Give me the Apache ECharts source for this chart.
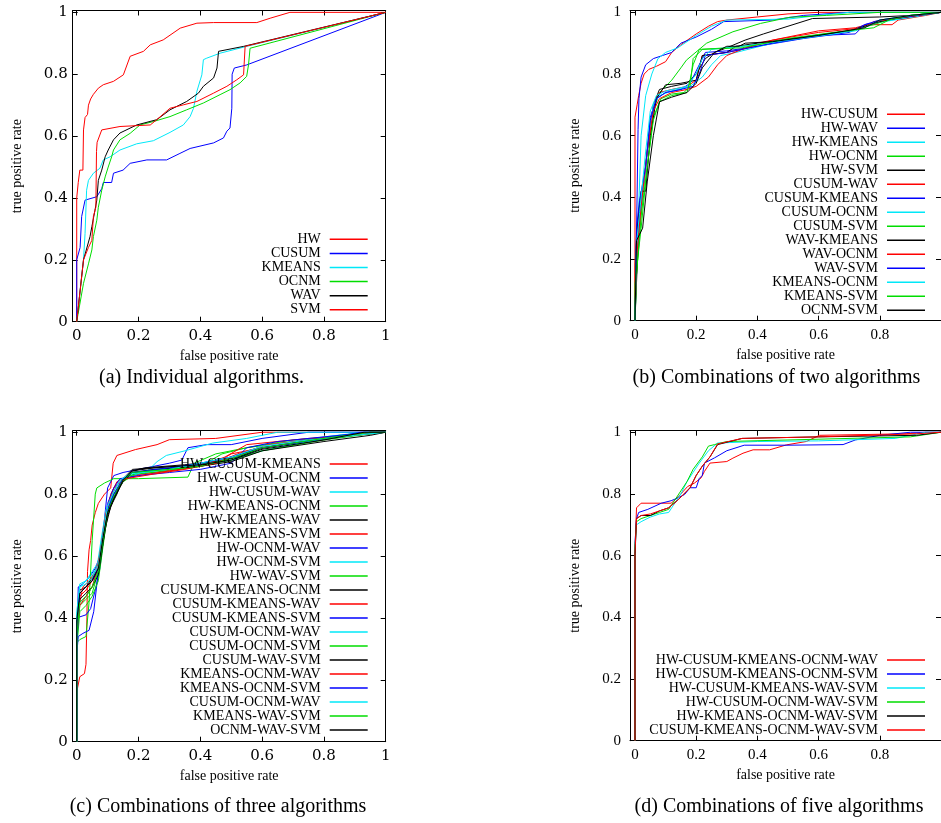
<!DOCTYPE html>
<html><head><meta charset="utf-8">
<script src="https://cdn.jsdelivr.net/npm/echarts@6/dist/echarts.min.js"></script>
<style>html,body{margin:0;padding:0;background:#fff}#c{width:941px;height:823px}</style>
</head><body><div id="c"></div>
<script>
// ---------- tick values ----------
const tickVals = [0, 0.2, 0.4, 0.6, 0.8, 1];
const tickValsCut = [0, 0.2, 0.4, 0.6, 0.8];

// ---------- panel (a): individual algorithms ----------
const namesA = ['HW', 'CUSUM', 'KMEANS', 'OCNM', 'WAV', 'SVM'];
const A_HW = [[0,0],[0,0.4],[0.005,0.45],[0.01,0.49],[0.02,0.49],[0.022,0.62],[0.027,0.66],[0.035,0.67],[0.038,0.70],[0.045,0.72],[0.054,0.735],[0.07,0.755],[0.086,0.766],[0.119,0.777],[0.151,0.798],[0.173,0.858],[0.216,0.874],[0.238,0.895],[0.28,0.911],[0.335,0.949],[0.389,0.965],[0.443,0.967],[0.583,0.967],[0.626,0.981],[0.69,1],[1,1]];
const A_CUSUM = [[0,0],[0,0.2],[0.011,0.24],[0.016,0.34],[0.027,0.393],[0.065,0.404],[0.081,0.43],[0.086,0.45],[0.113,0.45],[0.119,0.48],[0.15,0.49],[0.173,0.512],[0.227,0.523],[0.291,0.523],[0.334,0.544],[0.367,0.56],[0.443,0.578],[0.475,0.594],[0.486,0.616],[0.496,0.626],[0.502,0.69],[0.503,0.8],[0.51,0.82],[0.55,0.83],[1,1]];
const A_KMEANS = [[0,0],[0.011,0.1],[0.022,0.2],[0.027,0.285],[0.032,0.425],[0.038,0.457],[0.054,0.48],[0.075,0.496],[0.086,0.523],[0.108,0.533],[0.14,0.555],[0.194,0.575],[0.248,0.585],[0.302,0.612],[0.345,0.636],[0.367,0.663],[0.378,0.69],[0.389,0.745],[0.405,0.798],[0.41,0.847],[0.421,0.852],[0.464,0.868],[0.55,0.89],[1,1]];
const A_OCNM = [[0,0],[0.022,0.124],[0.038,0.187],[0.049,0.232],[0.054,0.275],[0.065,0.328],[0.07,0.37],[0.081,0.425],[0.092,0.468],[0.102,0.5],[0.113,0.533],[0.119,0.555],[0.14,0.588],[0.173,0.609],[0.205,0.636],[0.248,0.647],[0.302,0.663],[0.356,0.685],[0.41,0.707],[0.464,0.734],[0.496,0.75],[0.529,0.772],[0.55,0.793],[0.556,0.83],[0.561,0.884],[1,1]];
const A_WAV = [[0,0],[0.022,0.2],[0.043,0.275],[0.049,0.307],[0.059,0.36],[0.065,0.393],[0.07,0.457],[0.081,0.49],[0.092,0.533],[0.102,0.555],[0.119,0.588],[0.14,0.61],[0.194,0.636],[0.259,0.653],[0.302,0.685],[0.356,0.712],[0.394,0.739],[0.41,0.761],[0.443,0.788],[0.454,0.82],[0.459,0.874],[0.54,0.89],[1,1]];
const A_SVM = [[0,0],[0.022,0.2],[0.038,0.24],[0.049,0.263],[0.054,0.34],[0.062,0.37],[0.064,0.55],[0.066,0.58],[0.081,0.62],[0.14,0.631],[0.238,0.636],[0.259,0.653],[0.302,0.69],[0.345,0.701],[0.389,0.712],[0.443,0.739],[0.486,0.761],[0.518,0.782],[0.54,0.798],[0.545,0.89],[1,1]];
const curvesA = [A_HW, A_CUSUM, A_KMEANS, A_OCNM, A_WAV, A_SVM];

// ---------- panel (b): combinations of two ----------
const namesB = ['HW-CUSUM','HW-WAV','HW-KMEANS','HW-OCNM','HW-SVM','CUSUM-WAV','CUSUM-KMEANS','CUSUM-OCNM','CUSUM-SVM','WAV-KMEANS','WAV-OCNM','WAV-SVM','KMEANS-OCNM','KMEANS-SVM','OCNM-SVM'];
const B1 = [[0,0],[0,0.66],[0.007,0.7],[0.012,0.73],[0.02,0.77],[0.03,0.8],[0.045,0.815],[0.07,0.825],[0.1,0.84],[0.12,0.87],[0.15,0.895],[0.2,0.93],[0.24,0.955],[0.27,0.97],[0.3,0.975],[0.4,0.985],[0.5,0.995],[0.6,1],[1,1]];
const B2 = [[0,0],[0.005,0.28],[0.01,0.62],[0.013,0.72],[0.02,0.79],[0.035,0.83],[0.06,0.85],[0.09,0.86],[0.12,0.87],[0.15,0.9],[0.2,0.92],[0.25,0.945],[0.29,0.97],[0.45,0.975],[0.55,0.99],[0.7,1],[1,1]];
const B3 = [[0,0],[0.005,0.15],[0.01,0.3],[0.02,0.6],[0.035,0.73],[0.055,0.8],[0.075,0.85],[0.1,0.87],[0.14,0.885],[0.2,0.925],[0.25,0.955],[0.3,0.975],[0.5,0.978],[0.6,0.99],[0.7,1],[1,1]];
const B4 = [[0,0],[0.005,0.15],[0.02,0.35],[0.04,0.55],[0.06,0.68],[0.08,0.74],[0.12,0.78],[0.15,0.82],[0.168,0.845],[0.234,0.9],[0.32,0.937],[0.41,0.964],[0.505,0.984],[0.625,0.99],[0.8,1],[1,1]];
const B5 = [[0,0],[0.01,0.25],[0.02,0.38],[0.04,0.55],[0.06,0.7],[0.08,0.75],[0.12,0.76],[0.17,0.77],[0.2,0.8],[0.23,0.85],[0.26,0.87],[0.3,0.885],[0.36,0.91],[0.42,0.93],[0.5,0.955],[0.58,0.98],[0.8,0.985],[0.9,0.99],[1,1]];
const B6 = [[0,0],[0,0.18],[0.01,0.33],[0.02,0.38],[0.03,0.45],[0.045,0.6],[0.06,0.7],[0.08,0.74],[0.12,0.75],[0.17,0.76],[0.2,0.78],[0.22,0.86],[0.3,0.87],[0.35,0.88],[0.4,0.9],[0.5,0.92],[0.6,0.94],[0.72,0.95],[0.76,0.96],[0.84,0.96],[0.86,0.975],[0.95,0.99],[1,1]];
const B7 = [[0,0],[0.005,0.25],[0.02,0.39],[0.035,0.5],[0.05,0.66],[0.07,0.72],[0.1,0.74],[0.15,0.75],[0.18,0.77],[0.21,0.83],[0.23,0.87],[0.3,0.875],[0.4,0.89],[0.55,0.915],[0.7,0.935],[0.75,0.96],[0.8,0.97],[0.9,0.985],[1,1]];
const B8 = [[0,0],[0.005,0.2],[0.02,0.36],[0.04,0.55],[0.06,0.7],[0.08,0.73],[0.12,0.745],[0.18,0.76],[0.22,0.79],[0.25,0.83],[0.28,0.86],[0.33,0.87],[0.45,0.9],[0.6,0.925],[0.72,0.94],[0.78,0.965],[0.88,0.98],[1,1]];
const B9 = [[0,0],[0.005,0.15],[0.02,0.34],[0.04,0.5],[0.06,0.66],[0.085,0.72],[0.12,0.735],[0.16,0.74],[0.18,0.76],[0.19,0.85],[0.22,0.88],[0.3,0.885],[0.4,0.895],[0.55,0.92],[0.7,0.94],[0.78,0.96],[0.84,0.98],[0.9,0.99],[1,1]];
const B10 = [[0,0],[0.005,0.28],[0.02,0.42],[0.035,0.42],[0.05,0.6],[0.07,0.72],[0.1,0.765],[0.15,0.77],[0.2,0.78],[0.22,0.86],[0.3,0.87],[0.33,0.89],[0.4,0.9],[0.55,0.92],[0.7,0.94],[0.8,0.97],[0.85,0.98],[1,1]];
const B11 = [[0,0],[0.005,0.2],[0.02,0.37],[0.04,0.55],[0.06,0.68],[0.08,0.72],[0.12,0.74],[0.17,0.75],[0.2,0.76],[0.24,0.79],[0.27,0.83],[0.3,0.86],[0.35,0.88],[0.45,0.91],[0.6,0.935],[0.75,0.95],[0.78,0.97],[0.85,0.98],[1,1]];
const B12 = [[0,0],[0.005,0.3],[0.015,0.39],[0.035,0.5],[0.05,0.65],[0.07,0.72],[0.1,0.74],[0.15,0.75],[0.19,0.76],[0.21,0.8],[0.23,0.86],[0.3,0.87],[0.45,0.9],[0.6,0.925],[0.72,0.93],[0.75,0.96],[0.8,0.975],[1,1]];
const B13 = [[0,0],[0.005,0.25],[0.015,0.35],[0.035,0.55],[0.05,0.68],[0.07,0.73],[0.1,0.745],[0.17,0.76],[0.2,0.8],[0.22,0.85],[0.25,0.88],[0.35,0.89],[0.5,0.91],[0.65,0.93],[0.75,0.95],[0.8,0.975],[0.9,0.99],[1,1]];
const B14 = [[0,0],[0,0.12],[0.02,0.3],[0.04,0.5],[0.06,0.65],[0.08,0.71],[0.12,0.73],[0.17,0.74],[0.18,0.78],[0.19,0.83],[0.21,0.88],[0.35,0.885],[0.5,0.915],[0.65,0.935],[0.78,0.95],[0.83,0.975],[0.9,0.99],[1,1]];
const B15 = [[0,0],[0.005,0.26],[0.015,0.28],[0.025,0.3],[0.04,0.45],[0.06,0.6],[0.08,0.71],[0.12,0.725],[0.17,0.74],[0.2,0.77],[0.22,0.82],[0.26,0.87],[0.3,0.89],[0.34,0.89],[0.36,0.9],[0.45,0.905],[0.6,0.925],[0.75,0.95],[0.8,0.975],[0.9,0.99],[1,1]];
const curvesB = [B1,B2,B3,B4,B5,B6,B7,B8,B9,B10,B11,B12,B13,B14,B15];

// ---------- panel (c): combinations of three ----------
const namesC = ['HW-CUSUM-KMEANS','HW-CUSUM-OCNM','HW-CUSUM-WAV','HW-KMEANS-OCNM','HW-KMEANS-WAV','HW-KMEANS-SVM','HW-OCNM-WAV','HW-OCNM-SVM','HW-WAV-SVM','CUSUM-KMEANS-OCNM','CUSUM-KMEANS-WAV','CUSUM-KMEANS-SVM','CUSUM-OCNM-WAV','CUSUM-OCNM-SVM','CUSUM-WAV-SVM','KMEANS-OCNM-WAV','KMEANS-OCNM-SVM',' CUSUM-OCNM-WAV','KMEANS-WAV-SVM','OCNM-WAV-SVM'];
const C1 = [[0,0],[0,0.16],[0.01,0.21],[0.025,0.22],[0.03,0.25],[0.033,0.4],[0.035,0.55],[0.04,0.62],[0.045,0.65],[0.05,0.7],[0.06,0.74],[0.07,0.77],[0.09,0.8],[0.11,0.82],[0.118,0.9],[0.13,0.925],[0.19,0.944],[0.26,0.96],[0.3,0.976],[0.45,0.98],[0.6,1],[1,1]];
const C2 = [[0,0],[0,0.3],[0.005,0.5],[0.02,0.51],[0.04,0.53],[0.06,0.56],[0.075,0.6],[0.09,0.72],[0.1,0.82],[0.12,0.86],[0.15,0.87],[0.2,0.88],[0.3,0.9],[0.34,0.91],[0.36,0.95],[0.42,0.96],[0.5,0.96],[0.6,0.98],[0.75,1],[1,1]];
const C3 = [[0,0],[0,0.35],[0.01,0.5],[0.03,0.52],[0.05,0.55],[0.07,0.58],[0.08,0.65],[0.1,0.75],[0.12,0.8],[0.14,0.83],[0.16,0.85],[0.23,0.876],[0.26,0.905],[0.29,0.925],[0.35,0.94],[0.44,0.965],[0.55,0.98],[0.65,1],[1,1]];
const C4 = [[0,0],[0,0.32],[0.01,0.33],[0.03,0.34],[0.04,0.45],[0.05,0.65],[0.06,0.8],[0.065,0.82],[0.09,0.836],[0.12,0.85],[0.2,0.85],[0.36,0.855],[0.38,0.9],[0.45,0.93],[0.55,0.95],[0.7,0.97],[0.85,0.99],[1,1]];
const C5 = [[0,0],[0,0.38],[0.01,0.48],[0.03,0.5],[0.05,0.52],[0.06,0.55],[0.075,0.57],[0.09,0.68],[0.11,0.76],[0.13,0.8],[0.15,0.85],[0.18,0.88],[0.25,0.885],[0.4,0.895],[0.5,0.92],[0.6,0.95],[0.8,0.98],[0.95,1],[1,1]];
const C6 = [[0,0],[0,0.35],[0.01,0.47],[0.03,0.49],[0.05,0.52],[0.07,0.55],[0.08,0.62],[0.095,0.72],[0.11,0.8],[0.13,0.84],[0.17,0.86],[0.25,0.87],[0.35,0.885],[0.45,0.9],[0.5,0.93],[0.6,0.95],[0.8,0.98],[0.9,0.99],[1,1]];
const C7 = [[0,0],[0,0.4],[0.03,0.41],[0.045,0.43],[0.06,0.49],[0.075,0.56],[0.09,0.68],[0.1,0.76],[0.12,0.8],[0.15,0.84],[0.18,0.87],[0.3,0.88],[0.4,0.895],[0.5,0.91],[0.6,0.95],[0.75,0.97],[0.9,0.99],[1,1]];
const C8 = [[0,0],[0,0.37],[0.01,0.45],[0.03,0.47],[0.05,0.5],[0.065,0.55],[0.08,0.63],[0.1,0.75],[0.12,0.79],[0.14,0.83],[0.17,0.86],[0.25,0.875],[0.4,0.89],[0.5,0.92],[0.6,0.955],[0.8,0.985],[0.93,1],[1,1]];
const C9 = [[0,0],[0,0.36],[0.01,0.44],[0.03,0.46],[0.05,0.48],[0.07,0.55],[0.085,0.66],[0.1,0.75],[0.12,0.8],[0.15,0.84],[0.19,0.865],[0.3,0.875],[0.4,0.89],[0.47,0.93],[0.55,0.95],[0.7,0.975],[0.9,0.99],[1,1]];
const C10 = [[0,0],[0,0.4],[0.01,0.49],[0.03,0.5],[0.05,0.53],[0.07,0.56],[0.085,0.65],[0.1,0.74],[0.12,0.79],[0.15,0.845],[0.18,0.875],[0.22,0.885],[0.35,0.895],[0.46,0.906],[0.52,0.92],[0.6,0.948],[0.78,0.98],[0.93,0.995],[1,1]];
const C11 = [[0,0],[0,0.33],[0.01,0.45],[0.02,0.5],[0.04,0.52],[0.06,0.55],[0.075,0.6],[0.09,0.7],[0.105,0.78],[0.12,0.82],[0.15,0.85],[0.2,0.86],[0.3,0.875],[0.4,0.89],[0.48,0.92],[0.55,0.96],[0.75,0.98],[0.9,0.99],[1,1]];
const C12 = [[0,0],[0,0.28],[0.005,0.34],[0.02,0.35],[0.04,0.36],[0.055,0.42],[0.07,0.55],[0.085,0.68],[0.1,0.77],[0.12,0.82],[0.14,0.85],[0.2,0.86],[0.3,0.87],[0.4,0.88],[0.5,0.9],[0.55,0.95],[0.65,0.97],[0.85,0.99],[1,1]];
const C13 = [[0,0],[0,0.38],[0.01,0.51],[0.03,0.52],[0.05,0.54],[0.065,0.56],[0.08,0.66],[0.095,0.75],[0.115,0.8],[0.14,0.84],[0.17,0.86],[0.25,0.88],[0.4,0.895],[0.5,0.91],[0.6,0.94],[0.8,0.98],[0.95,1],[1,1]];
const C14 = [[0,0],[0,0.3],[0.01,0.42],[0.03,0.44],[0.05,0.47],[0.07,0.52],[0.085,0.63],[0.1,0.74],[0.12,0.8],[0.15,0.85],[0.2,0.87],[0.3,0.88],[0.4,0.89],[0.5,0.91],[0.6,0.94],[0.8,0.975],[0.95,0.995],[1,1]];
const C15 = [[0,0],[0,0.36],[0.01,0.46],[0.03,0.48],[0.05,0.5],[0.07,0.54],[0.085,0.64],[0.1,0.73],[0.12,0.785],[0.15,0.84],[0.18,0.87],[0.25,0.88],[0.4,0.89],[0.5,0.905],[0.6,0.94],[0.8,0.97],[0.95,0.99],[1,1]];
const C16 = [[0,0],[0,0.34],[0.01,0.44],[0.03,0.47],[0.05,0.5],[0.065,0.55],[0.08,0.64],[0.095,0.74],[0.11,0.79],[0.13,0.83],[0.16,0.85],[0.25,0.865],[0.35,0.88],[0.45,0.9],[0.52,0.93],[0.62,0.96],[0.8,0.98],[0.95,1],[1,1]];
const C17 = [[0,0],[0,0.31],[0.01,0.48],[0.03,0.5],[0.05,0.52],[0.07,0.56],[0.085,0.66],[0.1,0.75],[0.12,0.8],[0.15,0.85],[0.18,0.87],[0.3,0.885],[0.4,0.9],[0.5,0.92],[0.6,0.95],[0.8,0.98],[0.92,1],[1,1]];
const C18 = [[0,0],[0,0.42],[0.01,0.5],[0.03,0.51],[0.05,0.53],[0.07,0.57],[0.085,0.67],[0.1,0.76],[0.12,0.81],[0.14,0.845],[0.17,0.865],[0.3,0.88],[0.4,0.9],[0.5,0.92],[0.6,0.955],[0.75,0.975],[0.9,0.99],[1,1]];
const C19 = [[0,0],[0,0.34],[0.01,0.45],[0.03,0.47],[0.05,0.5],[0.07,0.55],[0.085,0.65],[0.1,0.74],[0.12,0.79],[0.15,0.845],[0.18,0.87],[0.3,0.88],[0.4,0.89],[0.5,0.915],[0.6,0.95],[0.8,0.98],[0.95,1],[1,1]];
const C20 = [[0,0],[0,0.39],[0.01,0.48],[0.03,0.5],[0.05,0.52],[0.07,0.56],[0.085,0.66],[0.1,0.74],[0.12,0.785],[0.15,0.845],[0.18,0.875],[0.25,0.885],[0.4,0.895],[0.5,0.91],[0.6,0.945],[0.8,0.975],[0.93,1],[1,1]];
const curvesC = [C1,C2,C3,C4,C5,C6,C7,C8,C9,C10,C11,C12,C13,C14,C15,C16,C17,C18,C19,C20];

// ---------- panel (d): combinations of five ----------
const namesD = ['HW-CUSUM-KMEANS-OCNM-WAV','HW-CUSUM-KMEANS-OCNM-SVM','HW-CUSUM-KMEANS-WAV-SVM','HW-CUSUM-OCNM-WAV-SVM','HW-KMEANS-OCNM-WAV-SVM','CUSUM-KMEANS-OCNM-WAV-SVM'];
const D1 = [[0,0],[0,0.62],[0.005,0.755],[0.02,0.77],[0.118,0.77],[0.13,0.78],[0.15,0.8],[0.172,0.824],[0.194,0.835],[0.216,0.852],[0.227,0.873],[0.245,0.9],[0.3,0.905],[0.32,0.916],[0.353,0.932],[0.386,0.943],[0.44,0.943],[0.495,0.959],[0.56,0.97],[0.603,0.99],[0.886,0.995],[0.95,1],[1,1]];
const D2 = [[0,0],[0,0.64],[0.005,0.72],[0.012,0.74],[0.042,0.75],[0.086,0.77],[0.118,0.778],[0.14,0.787],[0.162,0.798],[0.18,0.82],[0.2,0.82],[0.21,0.85],[0.22,0.86],[0.227,0.9],[0.26,0.917],[0.3,0.94],[0.357,0.958],[0.5,0.958],[0.68,0.96],[0.72,0.975],[0.8,0.99],[0.9,1],[1,1]];
const D3 = [[0,0],[0,0.62],[0.005,0.7],[0.02,0.71],[0.05,0.725],[0.08,0.735],[0.11,0.74],[0.13,0.77],[0.15,0.8],[0.17,0.84],[0.19,0.87],[0.21,0.9],[0.24,0.94],[0.27,0.965],[0.4,0.97],[0.6,0.972],[0.85,0.98],[0.95,1],[1,1]];
const D4 = [[0,0],[0,0.63],[0.005,0.71],[0.02,0.72],[0.05,0.73],[0.08,0.74],[0.11,0.75],[0.13,0.78],[0.15,0.81],[0.17,0.84],[0.19,0.88],[0.22,0.92],[0.24,0.955],[0.26,0.96],[0.3,0.97],[0.5,0.975],[0.9,0.985],[1,1]];
const D5 = [[0,0],[0,0.6],[0.005,0.72],[0.02,0.73],[0.05,0.73],[0.08,0.745],[0.11,0.755],[0.14,0.78],[0.16,0.8],[0.18,0.82],[0.2,0.86],[0.22,0.89],[0.245,0.92],[0.27,0.96],[0.35,0.98],[0.6,0.985],[0.92,0.99],[1,1]];
const D6 = [[0,0],[0,0.61],[0.005,0.72],[0.02,0.73],[0.05,0.735],[0.08,0.745],[0.11,0.755],[0.14,0.78],[0.16,0.8],[0.18,0.82],[0.2,0.86],[0.22,0.89],[0.245,0.92],[0.27,0.962],[0.35,0.98],[0.6,0.985],[0.92,0.995],[1,1]];
const curvesD = [D1,D2,D3,D4,D5,D6];

// ---------- styling / layout ----------
const palette = ['#ff0000', '#0000ff', '#00e8f8', '#00dd00', '#000000'];
const panels = [
  {left: 72.7, top: 10.5, width: 313, height: 311.2, xmin: -0.013, ymax: 1.006, font: 'DejaVu Serif', xl: tickVals, ylm: 5, names: namesA, curves: curvesA, lgRight: 573.3, lgTop: 232.3, lgGap: 0.1},
  {left: 630, top: 10.5, width: 312.1, height: 310.2, xmin: -0.0163, ymax: 1.006, font: 'Liberation Serif', xl: tickValsCut, ylm: 9, names: namesB, curves: curvesB, lgRight: 16, lgTop: 107.3, lgGap: 0},
  {left: 72.7, top: 430.7, width: 313, height: 311, xmin: -0.013, ymax: 1.005, font: 'DejaVu Serif', xl: tickVals, ylm: 5, names: namesC, curves: curvesC, lgRight: 573.3, lgTop: 457, lgGap: 0},
  {left: 630, top: 430.7, width: 312.1, height: 310, xmin: -0.0163, ymax: 1.005, font: 'Liberation Serif', xl: tickValsCut, ylm: 9, names: namesD, curves: curvesD, lgRight: 16, lgTop: 653, lgGap: 0}
];
const captions = [
  {text: '(a) Individual algorithms.', x: 201.5, y: 378},
  {text: '(b) Combinations of two algorithms', x: 776.5, y: 378},
  {text: '(c) Combinations of three algorithms', x: 218, y: 807},
  {text: '(d) Combinations of five algorithms', x: 779, y: 807}
];

const nameStyle = {fontFamily: 'Liberation Serif', fontSize: 14, color: '#000'};
const lineBlack = {color: '#000', width: 1};
const grid = [], xAxis = [], yAxis = [], series = [], legend = [];

panels.forEach((p, i) => {
  grid.push({left: p.left, top: p.top, width: p.width, height: p.height, containLabel: false});
});
panels.forEach((p, i) => {
  xAxis.push({gridIndex: i, type: 'value', min: p.xmin, max: 1, position: 'bottom',
    axisLine: {onZero: false, lineStyle: lineBlack},
    axisTick: {inside: true, length: 5, customValues: tickVals, lineStyle: lineBlack},
    axisLabel: {customValues: p.xl, color: '#000', fontFamily: p.font, fontSize: 15, margin: 7},
    splitLine: {show: false},
    name: 'false positive rate', nameLocation: 'middle', nameGap: 28, nameTextStyle: nameStyle});
});
panels.forEach((p, i) => {
  xAxis.push({gridIndex: i, type: 'value', min: p.xmin, max: 1, position: 'top',
    axisLine: {onZero: false, lineStyle: lineBlack},
    axisTick: {inside: true, length: 5, customValues: tickVals, lineStyle: lineBlack},
    axisLabel: {show: false}, splitLine: {show: false}});
});
panels.forEach((p, i) => {
  yAxis.push({gridIndex: i, type: 'value', min: 0, max: p.ymax, position: 'left',
    axisLine: {onZero: false, lineStyle: lineBlack},
    axisTick: {inside: true, length: 5, customValues: tickVals, lineStyle: lineBlack},
    axisLabel: {customValues: tickVals, color: '#000', fontFamily: p.font, fontSize: 15, margin: p.ylm},
    splitLine: {show: false},
    name: 'true positive rate', nameLocation: 'middle', nameGap: 48, nameTextStyle: nameStyle});
});
panels.forEach((p, i) => {
  yAxis.push({gridIndex: i, type: 'value', min: 0, max: p.ymax, position: 'right',
    axisLine: {onZero: false, lineStyle: lineBlack},
    axisTick: {inside: true, length: 5, customValues: tickVals, lineStyle: lineBlack},
    axisLabel: {show: false}, splitLine: {show: false}});
});
panels.forEach((p, i) => {
  p.names.forEach((n, k) => {
    const col = palette[k % 5];
    series.push({name: n, type: 'line', xAxisIndex: i, yAxisIndex: i, data: p.curves[k],
      symbol: 'none', showSymbol: false, silent: true, animation: false,
      lineStyle: {width: 1, color: col}, itemStyle: {color: col}});
  });
  legend.push({data: p.names, orient: 'vertical', align: 'right', right: p.lgRight, top: p.lgTop,
    icon: 'rect', itemWidth: 38, itemHeight: 1.5, itemGap: p.lgGap, padding: 0, selectedMode: false,
    textStyle: {fontFamily: 'Liberation Serif', fontSize: 14, lineHeight: 14, color: '#000', padding: [0, 4, 0, 0]}});
});

const graphic = captions.map(c => ({type: 'text', x: c.x, y: c.y,
  style: {text: c.text, fill: '#000', font: '20px "Liberation Serif"', align: 'center', verticalAlign: 'middle'}}));

const chart = echarts.init(document.getElementById('c'), null, {renderer: 'canvas'});
chart.setOption({backgroundColor: '#fff', animation: false, grid, xAxis, yAxis, series, legend, graphic});
</script></body></html>
